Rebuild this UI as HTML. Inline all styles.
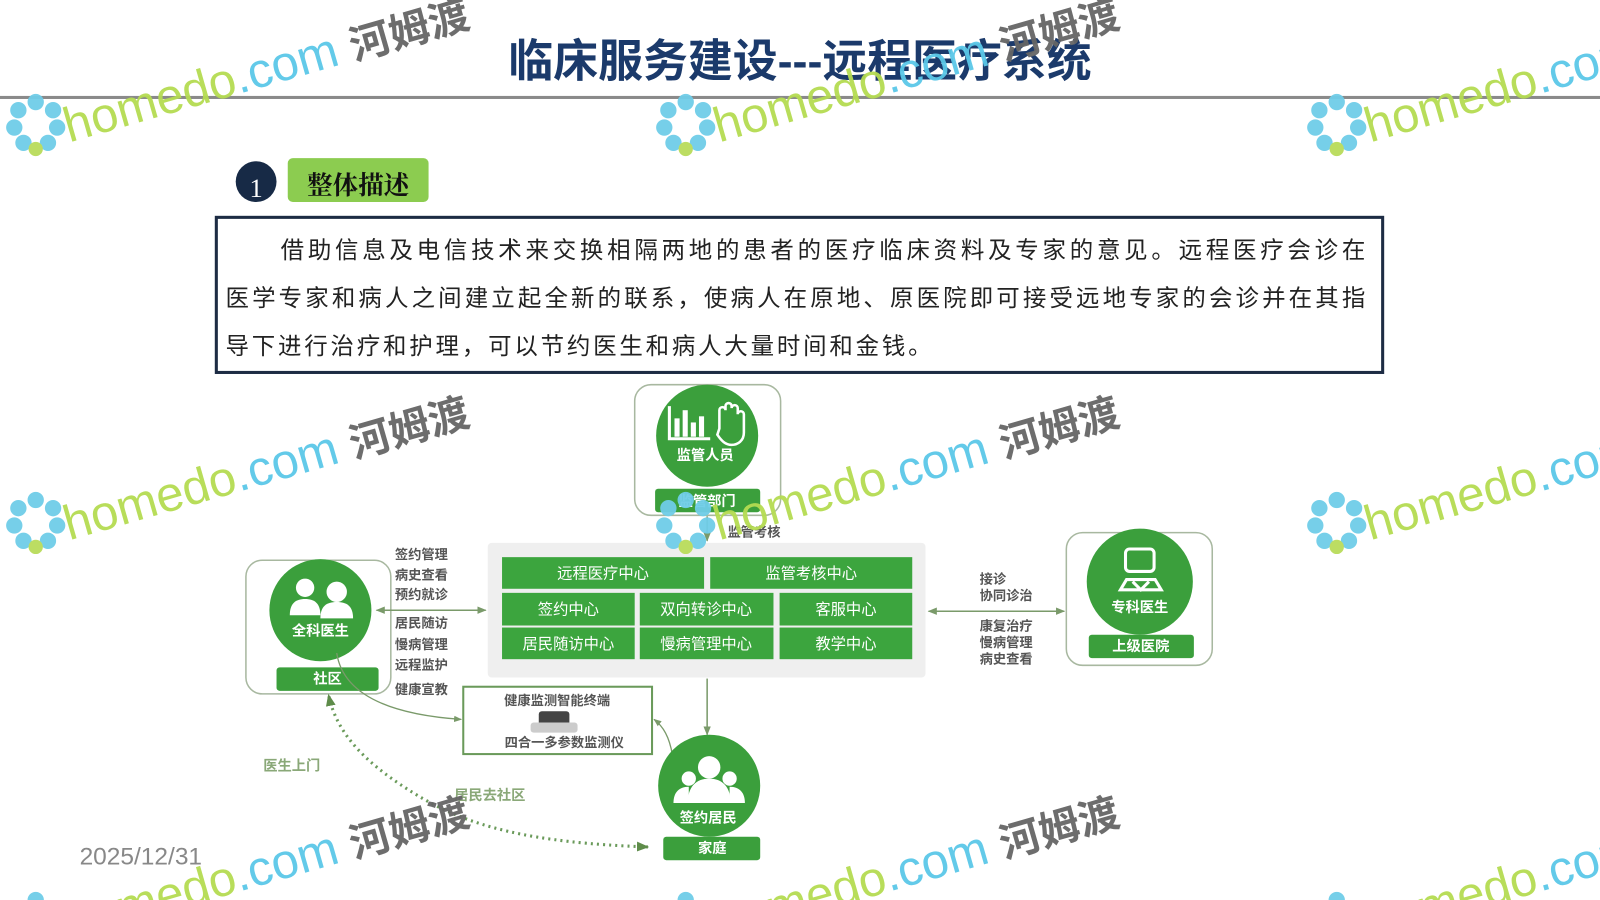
<!DOCTYPE html>
<html><head><meta charset="utf-8"><style>
html,body{margin:0;padding:0;background:#fff;width:1600px;height:900px;overflow:hidden}
svg{display:block;overflow:hidden}
text{font-family:"Liberation Sans","Noto Sans CJK SC",sans-serif}
.s{font-family:"Liberation Serif","Noto Serif CJK SC",serif}
.w{fill:#fff;font-weight:bold}
.g{fill:#555;font-size:13px;font-weight:bold}
</style></head><body>
<svg width="1600" height="900" viewBox="0 0 1568 882" preserveAspectRatio="none" xmlns="http://www.w3.org/2000/svg">
<defs>
<clipPath id="c"><rect x="0" y="0" width="1568" height="882"/></clipPath>
<marker id="a" viewBox="0 0 10 10" refX="9" refY="5" markerWidth="6" markerHeight="6" orient="auto-start-reverse"><path d="M0,1L10,5L0,9z" fill="#7a9a6a"/></marker>
<marker id="b" viewBox="0 0 10 10" refX="9" refY="5" markerWidth="4" markerHeight="4" orient="auto-start-reverse"><path d="M0,1L10,5L0,9z" fill="#5e8c4a"/></marker>
<g id="wm">
<g fill="#6fcde8"><circle cx="-30" cy="-30" r="8"/><circle cx="-13" cy="-22" r="8"/><circle cx="-9" cy="-5" r="8"/><circle cx="-18" cy="10" r="8"/><circle cx="-47" cy="-22" r="8"/><circle cx="-51" cy="-5" r="8"/><circle cx="-42" cy="10" r="8"/></g>
<circle cx="-30" cy="16" r="7" fill="#b9dc5a"/>
<text x="0" y="10" font-size="48" transform="rotate(-16)"><tspan fill="#b5dc52">homedo</tspan><tspan fill="#5bc8e8">.com </tspan><tspan fill="#666" font-weight="bold" font-size="40">河姆渡</tspan></text>
</g>
</defs>
<g clip-path="url(#c)">
<text x="784" y="75" text-anchor="middle" font-size="44" font-weight="bold" fill="#1b3a6b">临床服务建设---远程医疗系统</text>
<rect x="0" y="94" width="1568" height="3" fill="#8a8a8a"/>

<circle cx="251" cy="178" r="20" fill="#172a46"/>
<text x="251" y="193" class="s" text-anchor="middle" font-size="26" fill="#fff">1</text>
<rect x="282" y="155" width="138" height="43" rx="5" fill="#8ccc50"/>
<text x="351" y="190" class="s" text-anchor="middle" font-size="25" font-weight="bold" fill="#111">整体描述</text>

<rect x="212" y="213" width="1143" height="152" fill="#fff" stroke="#1d2c44" stroke-width="3"/>
<g class="s" font-size="23" fill="#222">
<text x="275" y="253" textLength="1063" lengthAdjust="spacing">借助信息及电信技术来交换相隔两地的患者的医疗临床资料及专家的意见。远程医疗会诊在</text>
<text x="221" y="300" textLength="1117" lengthAdjust="spacing">医学专家和病人之间建立起全新的联系，使病人在原地、原医院即可接受远地专家的会诊并在其指</text>
<text x="221" y="347" textLength="692" lengthAdjust="spacing">导下进行治疗和护理，可以节约医生和病人大量时间和金钱。</text>
</g>

<rect x="622" y="377" width="143" height="128" rx="16" fill="#fff" stroke="#a8b8a0" stroke-width="1.5"/>
<circle cx="693" cy="427" r="50" fill="#3b9f3c"/>
<path d="M656,398v32h40" stroke="#fff" stroke-width="3" fill="none"/>
<rect x="661" y="410" width="5" height="18" fill="#fff"/><rect x="669" y="402" width="5" height="26" fill="#fff"/><rect x="677" y="414" width="5" height="14" fill="#fff"/><rect x="685" y="408" width="5" height="20" fill="#fff"/>
<path d="M705,420v-18a3,3 0 0 1 6,0v-4a3,3 0 0 1 6,0v2a3,3 0 0 1 6,0v6a3,3 0 0 1 6,0v18c0,8-6,12-12,12c-6,0-10-4-14-10z" fill="none" stroke="#fff" stroke-width="2.5"/>
<text x="691" y="451" class="w" text-anchor="middle" font-size="14">监管人员</text>
<rect x="642" y="479" width="103" height="23" rx="3" fill="#3b9f3c"/>
<text x="693" y="496" class="w" text-anchor="middle" font-size="14">监管部门</text>
<line x1="693" y1="506" x2="693" y2="530" stroke="#7a9a6a" stroke-width="1.5" marker-end="url(#a)"/>
<text x="713" y="526" class="g" font-size="14">监管考核</text>

<rect x="478" y="532" width="429" height="132" rx="4" fill="#efefef"/>
<g fill="#3ca53e">
<rect x="492" y="546" width="198" height="31"/><rect x="696" y="546" width="198" height="31"/>
<rect x="492" y="581" width="130" height="32"/><rect x="627" y="581" width="131" height="32"/><rect x="764" y="581" width="130" height="32"/>
<rect x="492" y="615" width="130" height="31"/><rect x="627" y="615" width="131" height="31"/><rect x="764" y="615" width="130" height="31"/>
</g>
<g fill="#fff" font-size="15" text-anchor="middle">
<text x="591" y="567">远程医疗中心</text><text x="795" y="567">监管考核中心</text>
<text x="557" y="602">签约中心</text><text x="692" y="602">双向转诊中心</text><text x="829" y="602">客服中心</text>
<text x="557" y="636">居民随访中心</text><text x="692" y="636">慢病管理中心</text><text x="829" y="636">教学中心</text>
</g>

<rect x="241" y="549" width="142" height="131" rx="16" fill="#fff" stroke="#a8b8a0" stroke-width="1.5"/>
<circle cx="314" cy="598" r="50" fill="#3b9f3c"/>
<g fill="#fff"><circle cx="299" cy="576" r="9"/><path d="M284,603c0-12 6-16 15-16s15,4 15,16z"/><circle cx="330" cy="580" r="10"/><path d="M314,606c0-12 6-16 16-16s16,4 16,16z"/></g>
<text x="314" y="623" class="w" text-anchor="middle" font-size="14">全科医生</text>
<rect x="271" y="654" width="100" height="23" rx="3" fill="#3b9f3c"/>
<text x="321" y="670" class="w" text-anchor="middle" font-size="14">社区</text>
<line x1="369" y1="598" x2="476" y2="598" stroke="#7a9a6a" stroke-width="1.5" marker-start="url(#a)" marker-end="url(#a)"/>
<g class="g"><text x="387" y="548">签约管理</text><text x="387" y="568">病史查看</text><text x="387" y="587">预约就诊</text><text x="387" y="615">居民随访</text><text x="387" y="636">慢病管理</text><text x="387" y="656">远程监护</text><text x="387" y="680">健康宣教</text></g>

<rect x="1045" y="522" width="143" height="130" rx="16" fill="#fff" stroke="#a8b8a0" stroke-width="1.5"/>
<circle cx="1117" cy="570" r="52" fill="#3b9f3c"/>
<g stroke="#fff" stroke-width="3" fill="none"><rect x="1103" y="538" width="28" height="22" rx="4"/><path d="M1098,578h40l-6-10h-28z"/><path d="M1110,570l8,8l8-8"/></g>
<text x="1117" y="600" class="w" text-anchor="middle" font-size="14">专科医生</text>
<rect x="1067" y="622" width="103" height="23" rx="3" fill="#3b9f3c"/>
<text x="1118" y="638" class="w" text-anchor="middle" font-size="14">上级医院</text>
<line x1="910" y1="599" x2="1043" y2="599" stroke="#7a9a6a" stroke-width="1.5" marker-start="url(#a)" marker-end="url(#a)"/>
<g class="g"><text x="960" y="572">接诊</text><text x="960" y="588">协同诊治</text><text x="960" y="618">康复治疗</text><text x="960" y="634">慢病管理</text><text x="960" y="650">病史查看</text></g>

<rect x="454" y="673" width="185" height="66" fill="#fff" stroke="#6a9a5a" stroke-width="2"/>
<text x="546" y="691" class="g" text-anchor="middle" font-size="15">健康监测智能终端</text>
<rect x="528" y="697" width="30" height="16" rx="3" fill="#444"/><rect x="520" y="708" width="46" height="10" rx="3" fill="#ccc"/>
<text x="553" y="732" class="g" text-anchor="middle" font-size="12">四合一多参数监测仪</text>
<path d="M330,640 C336,680 380,700 452,705" stroke="#7a9a6a" stroke-width="1.3" fill="none" marker-end="url(#a)"/>
<path d="M659,740 C656,722 650,712 641,705" stroke="#7a9a6a" stroke-width="1.3" fill="none" marker-end="url(#a)"/>
<line x1="693" y1="665" x2="693" y2="720" stroke="#7a9a6a" stroke-width="1.5" marker-end="url(#a)"/>

<circle cx="695" cy="770" r="50" fill="#3b9f3c"/>
<g fill="#fff"><circle cx="695" cy="752" r="11"/><path d="M674,787c0-16 8-24 21-24s21,8 21,24z"/><circle cx="675" cy="763" r="7"/><path d="M660,787c0-10 5-16 15-16v16z"/><circle cx="715" cy="763" r="7"/><path d="M730,787c0-10-5-16-15-16v16z"/></g>
<text x="694" y="806" class="w" text-anchor="middle" font-size="14">签约居民</text>
<rect x="650" y="820" width="95" height="23" rx="3" fill="#3b9f3c"/>
<text x="698" y="836" class="w" text-anchor="middle" font-size="14">家庭</text>

<path d="M635,830 C520,826 460,810 410,780 C360,750 330,720 322,681" stroke="#6a9a5a" stroke-width="3" stroke-dasharray="2 4" fill="none" marker-start="url(#b)" marker-end="url(#b)"/>
<text x="258" y="755" fill="#8aa878" font-size="14" font-weight="bold">医生上门</text>
<text x="445" y="784" fill="#8aa878" font-size="14" font-weight="bold">居民去社区</text>

<text x="78" y="847" font-size="24" fill="#888">2025/12/31</text>

<g opacity="0.95">
<use href="#wm" x="65" y="130"/><use href="#wm" x="702" y="130"/><use href="#wm" x="1340" y="130"/>
<use href="#wm" x="65" y="520"/><use href="#wm" x="702" y="520"/><use href="#wm" x="1340" y="520"/>
<use href="#wm" x="65" y="912"/><use href="#wm" x="702" y="912"/><use href="#wm" x="1340" y="912"/>
</g>
</g>
</svg>
</body></html>
